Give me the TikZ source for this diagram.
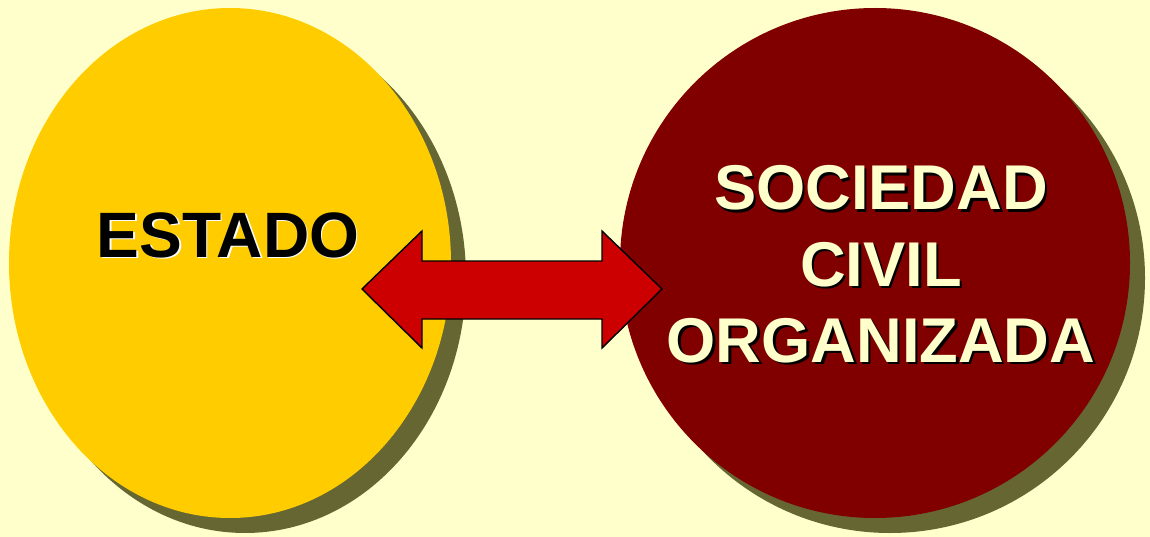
\documentclass[tikz,border=0pt]{standalone}
\usepackage{fontspec}
\setmainfont{Liberation Sans}
\usetikzlibrary{positioning}
\definecolor{fondo}{HTML}{FFFFCC}
\definecolor{sombra}{HTML}{666633}
\definecolor{amarillo}{HTML}{FFCC00}
\definecolor{granate}{HTML}{800000}
\definecolor{rojo}{HTML}{CC0000}
\tikzset{
    rotulo/.style={font=\bfseries\fontsize{36.5}{44}\selectfont, inner sep=0pt, anchor=base},
    rotulo grande/.style={rotulo, font=\bfseries\fontsize{36}{44}\selectfont},
    flecha/.style={fill=rojo, draw=black, line width=0.8pt, line join=miter}
}

\begin{document}
\begin{tikzpicture}[x=0.02cm, y=-0.02cm]
    \fill[fondo] (0, 0) rectangle (1150, 537);
    \coordinate (estado) at (230, 263);
    \coordinate (sociedad) at (875, 263);
    % sombras
    \fill[sombra] ([shift={(15, 15)}]estado) ellipse (221 and 255);
    \fill[sombra] ([shift={(15, 15)}]sociedad) circle (255);
    % figuras
    \fill[amarillo] (estado) ellipse (221 and 255);
    \fill[granate] (sociedad) circle (255);
    % flecha doble
    \coordinate (izq) at (362, 289);
    \coordinate (der) at (662, 289);
    \draw[flecha] (izq) -- ++(60, -58) -- ++(0, 30) -- ++(180, 0) -- ++(0, -30)
        -- (der) -- ++(-60, 59) -- ++(0, -29) -- ++(-180, 0) -- ++(0, 29) -- cycle;
    % textos
    \node[rotulo, white] (estadoS) at (229.5, 258.5) {ESTADO};
    \node[rotulo, black] (estadoT) at (228, 257) {ESTADO};
    \begin{scope}[shift={(2.5, 2.5)}]
        \node[rotulo grande, black] (socS) at (881, 210) {SOCIEDAD};
        \node[rotulo grande, black] (civS) at (881, 286) {CIVIL};
        \node[rotulo grande, black] (orgS) at (881, 362) {ORGANIZADA};
    \end{scope}
    \node[rotulo grande, fondo] (soc) at (881, 210) {SOCIEDAD};
    \node[rotulo grande, fondo] (civ) at (881, 286) {CIVIL};
    \node[rotulo grande, fondo] (org) at (881, 362) {ORGANIZADA};
\end{tikzpicture}
\end{document}
